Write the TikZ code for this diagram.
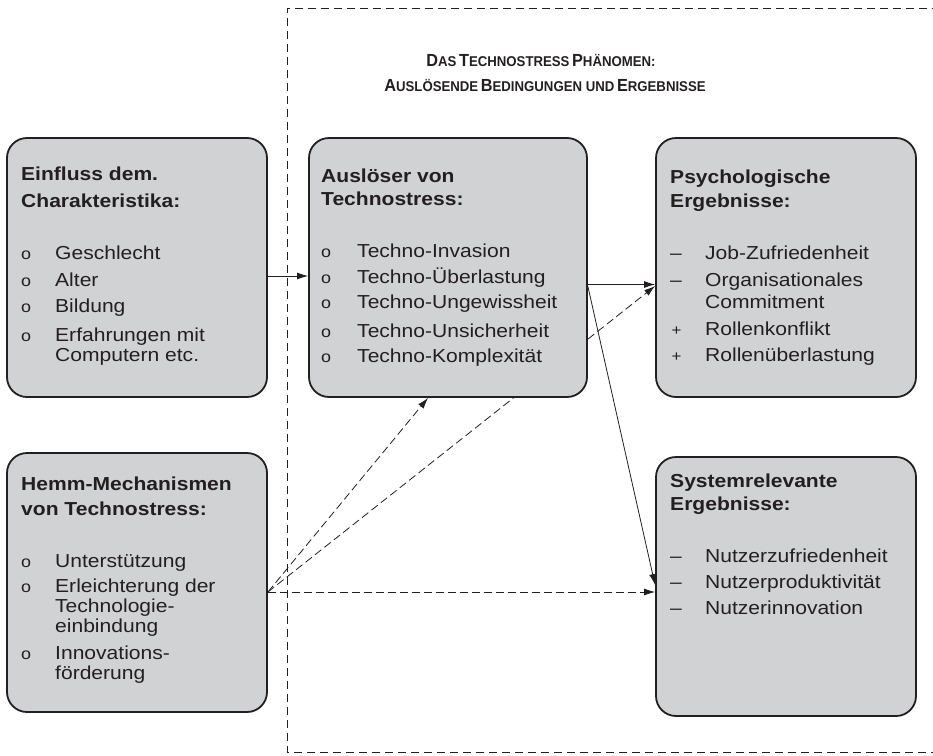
\documentclass[tikz,border=0pt]{standalone}
\usepackage{fontspec}
\setmainfont{Liberation Sans}[FakeStretch=1.12]
\newfontfamily\titlefont[FakeStretch=0.93]{Liberation Sans}
\usetikzlibrary{arrows.meta}
\pgfdeclarelayer{background}
\pgfsetlayers{background,main}
\definecolor{boxfill}{HTML}{D1D2D4}
\definecolor{ink}{HTML}{231F20}
\newcommand\SCw[2]{{\fontsize{17.5}{17.5}\selectfont #1}{\fontsize{14.2}{14.2}\selectfont #2}}
\newcommand\bul{{\fontsize{16}{16}\selectfont o}}
\newcommand\mns{–}
\newcommand\pls{{\fontsize{15}{15}\selectfont\hspace*{1.5pt}+}}
\newlength\indw
\newcommand\bitem[2]{\makebox[\indw][l]{#1}#2}
\newcommand\bcont[1]{\hspace*{\indw}#1}
\newcommand\boxtext[2]{\setlength\indw{#1}\parbox[t]{280pt}{\fontsize{18.8}{20}\selectfont\lineskiplimit=-100pt\lineskip=0pt\raggedright #2}}
\tikzset{
  box/.style={draw=ink, line width=1.8pt, fill=boxfill, rounded corners=20pt,
    minimum width=#1, minimum height=259pt, inner sep=0pt},
  txt/.style={anchor=base west, inner sep=0pt, text=ink},
  ttl/.style={anchor=base, inner sep=0pt, text=ink, font=\titlefont\bfseries},
  arr/.style={-{Latex[length=11pt,width=7pt]}, line width=0.8pt, draw=ink},
  darr/.style={arr, dash pattern=on 8pt off 4pt},
  frame/.style={draw=ink, line width=0.9pt, dash pattern=on 8pt off 5pt}
}
\begin{document}
\begin{tikzpicture}[x=1pt,y=-1pt]
\useasboundingbox (0,0) rectangle (933,755);
% dashed frame
\draw[frame] (940,8) -- (287,8) -- (287,752) -- (940,752);
% title
\node[ttl] (title1) at (541,66) {\SCw{D}{AS} \SCw{T}{ECHNOSTRESS} \SCw{P}{HÄNOMEN:}};
\node[ttl] (title2) at (545,91) {\SCw{A}{USLÖSENDE} \SCw{B}{EDINGUNGEN UND} \SCw{E}{RGEBNISSE}};
% boxes
\node[box=260pt] (A) at (137,267.5) {};
\node[box=260pt] (B) at (137,582.5) {};
\node[box=278pt] (M) at (448,267.5) {};
\node[box=260pt] (P) at (786,267.5) {};
\node[box=260pt] (S) at (786,586.5) {};
% texts
\node[txt] (tA) at (21,180) {\boxtext{34pt}{%
\textbf{Einfluss dem.}\\[7pt]
\textbf{Charakteristika:}\\[32pt]
\bitem{\bul}{Geschlecht}\\[7pt]
\bitem{\bul}{Alter}\\[6pt]
\bitem{\bul}{Bildung}\\[9pt]
\bitem{\bul}{Erfahrungen mit}\\
\bcont{Computern etc.}}};
\node[txt] (tB) at (21,490) {\boxtext{34pt}{%
\textbf{Hemm-Mechanismen}\\[5pt]
\textbf{von Technostress:}\\[32pt]
\bitem{\bul}{Unterstützung}\\[5pt]
\bitem{\bul}{Erleichterung der}\\
\bcont{Technologie-}\\
\bcont{einbindung}\\[7pt]
\bitem{\bul}{Innovations-}\\
\bcont{förderung}}};
\node[txt] (tM) at (321,182) {\boxtext{36pt}{%
\textbf{Auslöser von}\\[3pt]
\textbf{Technostress:}\\[32pt]
\bitem{\bul}{Techno-Invasion}\\[6pt]
\bitem{\bul}{Techno-Überlastung}\\[5pt]
\bitem{\bul}{Techno-Ungewissheit}\\[9pt]
\bitem{\bul}{Techno-Unsicherheit}\\[5pt]
\bitem{\bul}{Techno-Komplexität}}};
\node[txt] (tP) at (670,183) {\boxtext{35pt}{%
\textbf{Psychologische}\\[4pt]
\textbf{Ergebnisse:}\\[32pt]
\bitem{\mns}{Job-Zufriedenheit}\\[7pt]
\bitem{\mns}{Organisationales}\\[2pt]
\bcont{Commitment}\\[7pt]
\bitem{\pls}{Rollenkonflikt}\\[6pt]
\bitem{\pls}{Rollenüberlastung}}};
\node[txt] (tS) at (670,487) {\boxtext{35pt}{%
\textbf{Systemrelevante}\\[3pt]
\textbf{Ergebnisse:}\\[32pt]
\bitem{\mns}{Nutzerzufriedenheit}\\[6pt]
\bitem{\mns}{Nutzerproduktivität}\\[6pt]
\bitem{\mns}{Nutzerinnovation}}};
% connectors
\draw[arr] ([yshift=-8.5pt]A.east) -- ([yshift=-8.5pt]M.west);
\draw[arr] ([yshift=-17pt]M.east) -- ([yshift=-17pt]P.west);
\draw[arr] ([yshift=-19pt]M.east) -- ([yshift=1.5pt]S.west);
\draw[darr] ([yshift=-9.5pt]B.east) -- ([xshift=-20pt]M.south);
\begin{pgfonlayer}{background}
\draw[darr] ([yshift=-9.5pt]B.east) -- ([yshift=-18.5pt]P.west);
\end{pgfonlayer}
\draw[darr] ([yshift=-9.5pt]B.east) -- ([yshift=-5.5pt]S.west);
\end{tikzpicture}
\end{document}
